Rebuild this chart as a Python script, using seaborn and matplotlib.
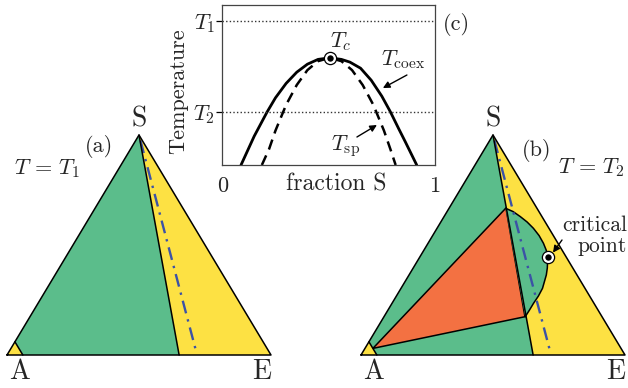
import numpy as np
import pandas as pd
import seaborn as sns
import matplotlib.pyplot as plt

sns.set_style('white')
plt.rcParams['font.family'] = 'cmr10'
plt.rcParams['mathtext.fontset'] = 'cm'
plt.rcParams['axes.unicode_minus'] = False
plt.rcParams['axes.formatter.use_mathtext'] = True

# --- (c) inset: fraction S vs temperature (scaled 0..1) ---
coex_x = [0.088, 0.15, 0.21, 0.25, 0.30, 0.35, 0.40, 0.45, 0.505,
          0.56, 0.60, 0.65, 0.70, 0.75, 0.79, 0.83, 0.86, 0.914]
coex_T = [0.0, 0.18, 0.33, 0.42, 0.51, 0.58, 0.63, 0.66, 0.67,
          0.66, 0.643, 0.605, 0.53, 0.43, 0.333, 0.225, 0.146, 0.0]
sp_x = [0.186, 0.22, 0.25, 0.30, 0.35, 0.40, 0.45, 0.505,
        0.56, 0.61, 0.66, 0.71, 0.76, 0.79, 0.815]
sp_T = [0.0, 0.10, 0.215, 0.376, 0.50, 0.593, 0.649, 0.67,
        0.649, 0.593, 0.50, 0.376, 0.215, 0.10, 0.0]
T1, T2, Tc = 0.9, 0.33, 0.67
x_c = 0.505

# --- ternary diagrams, compositions as (E fraction, S fraction) ---
corner = 0.06        # A-rich corner along both edges
divider_e = 0.652    # S-rich/E-rich boundary meets the A-E edge
tie_e = 0.72         # dash-dot line from S to the A-E edge
orange_e = [0.03, 0.215, 0.534]
orange_s = [0.03, 0.668, 0.174]
lens_e = [0.214, 0.250, 0.289, 0.327, 0.365, 0.403, 0.437, 0.463, 0.4845,
          0.508, 0.520, 0.536, 0.538, 0.536, 0.536, 0.535]
lens_s = [0.667, 0.652, 0.629, 0.6045, 0.576, 0.543, 0.508, 0.477, 0.4455,
          0.3955, 0.364, 0.303, 0.268, 0.235, 0.2045, 0.174]
crit_e, crit_s = 0.4845, 0.4455

green = '#5bbd8b'
yellow = '#fde143'
orange = '#f37142'
blue = '#3c52a6'

W, H = 628, 388


def tern(e, s):
    e = np.asarray(e, dtype=float)
    s = np.asarray(s, dtype=float)
    return e + s / 2, s


def px(x, y):
    return x / W, 1 - y / H


def ring_marker(ax, x, y):
    ax.plot(x, y, 'o', ms=8.8, mfc='white', mec='black', mew=0.9,
            zorder=10, clip_on=False)
    ax.plot(x, y, 'o', ms=4.6, mfc='black', mec='black', mew=0,
            zorder=11, clip_on=False)


def base_triangle(ax):
    ax.set_xlim(0, 1)
    ax.set_ylim(0, 1)
    ax.axis('off')
    tx, ty = tern([0, 1, 0], [0, 0, 1])
    ax.fill(tx, ty, color=yellow, lw=0)
    gx, gy = tern([corner, 0, 0, divider_e], [0, corner, 1, 0])
    ax.fill(gx, gy, color=green, lw=0)


def outlines(ax):
    kw = dict(color='black', lw=1.1, clip_on=False, zorder=6)
    tx, ty = tern([0, 1, 0, 0], [0, 0, 1, 0])
    ax.plot(tx, ty, **kw)
    dx, dy = tern([0, divider_e], [1, 0])
    ax.plot(dx, dy, **kw)
    cx, cy = tern([corner, 0], [0, corner])
    ax.plot(cx, cy, **kw)


def tie_line(ax):
    s = np.array([0.975, 0.015])
    lx, ly = tern(tie_e * (1 - s), s)
    ax.plot(lx, ly, color=blue, lw=1.7, ls=(0, (5.5, 2.6, 1, 2.6)),
            zorder=5, clip_on=False)


fig = plt.figure(figsize=(W / 100, H / 100), dpi=100)

# (a) T = T1
ax_a = fig.add_axes([7 / W, (H - 355) / H, 264 / W, 220 / H])
base_triangle(ax_a)
tie_line(ax_a)
outlines(ax_a)

# (b) T = T2
ax_b = fig.add_axes([361 / W, (H - 355) / H, 264 / W, 220 / H])
base_triangle(ax_b)
ox, oy = tern(orange_e, orange_s)
ax_b.fill(ox, oy, facecolor=orange, edgecolor='black', lw=1.1, zorder=3)
lx, ly = tern(lens_e, lens_s)
ax_b.fill(lx, ly, facecolor=green, edgecolor='none', zorder=3)
ax_b.plot(lx, ly, color='black', lw=1.1, zorder=4)
tie_line(ax_b)
outlines(ax_b)
kx, ky = tern(crit_e, crit_s)
ring_marker(ax_b, kx, ky)
ax_b.annotate('', xy=(kx + 0.02, ky + 0.02), xycoords='data',
              xytext=px(562, 240), textcoords='figure fraction',
              arrowprops=dict(arrowstyle='-|>', color='black', lw=1,
                              mutation_scale=10, shrinkA=0, shrinkB=0))

# triangle labels
for x0 in (0, 354):
    fig.text(*px(139 + x0, 119), 'S', fontsize=20, ha='center', va='center')
    fig.text(*px(19 + x0, 372), 'A', fontsize=20, ha='center', va='center')
    fig.text(*px(262 + x0, 372), 'E', fontsize=20, ha='center', va='center')
fig.text(*px(99, 147), '(a)', fontsize=16, ha='center', va='center')
fig.text(*px(47, 169), r'$T\,=\,T_1$', fontsize=16, ha='center',
         va='center')
fig.text(*px(537, 151), '(b)', fontsize=16, ha='center', va='center')
fig.text(*px(591, 168), r'$T\,=\,T_2$', fontsize=16, ha='center',
         va='center')
fig.text(*px(627, 225), 'critical', fontsize=15.5, ha='right', va='center')
fig.text(*px(627, 246), 'point', fontsize=15.5, ha='right', va='center')

# (c) inset
ax_c = fig.add_axes([222.3 / W, (H - 165) / H, 212.7 / W, 160 / H])
coex = pd.DataFrame({'x': coex_x, 'T': coex_T})
spin = pd.DataFrame({'x': sp_x, 'T': sp_T})
sns.lineplot(data=coex, x='x', y='T', ax=ax_c, color='black', lw=2,
             sort=False, estimator=None)
sns.lineplot(data=spin, x='x', y='T', ax=ax_c, color='black', lw=1.8,
             ls=(0, (4.2, 2.6)), sort=False, estimator=None)
for t in (T1, T2):
    ax_c.axhline(t, color='#333333', lw=1, ls=(0, (1, 1.6)))
ring_marker(ax_c, x_c, Tc)
ax_c.set_xlim(0, 1)
ax_c.set_ylim(0, 1)
ax_c.set_xticks([0, 1])
ax_c.set_xticklabels(['0', '1'], fontsize=16)
ax_c.set_yticks([T2, T1])
ax_c.set_yticklabels([r'$T_2$', r'$T_1$'], fontsize=16)
ax_c.tick_params(axis='y', left=True, length=4.5, width=0.9, pad=0.5,
                 color='black')
ax_c.tick_params(axis='x', bottom=False, pad=5)
for sp in ax_c.spines.values():
    sp.set_color('#444444')
    sp.set_linewidth(0.9)
ax_c.set_xlabel('fraction S', fontsize=17)
ax_c.set_ylabel('Temperature', fontsize=16)
ax_c.xaxis.set_label_coords(0.535, -0.05)
ax_c.yaxis.set_label_coords(-0.16, 0.46)
ax_c.text(0.558, 0.77, r'$T_c$', fontsize=16, ha='center', va='center')
ax_c.text(0.85, 0.66, r'$T_{\rm coex}$', fontsize=16, ha='center',
          va='center')
ax_c.text(0.58, 0.12, r'$T_{\rm sp}$', fontsize=16, ha='center',
          va='center')
ax_c.annotate('', xy=(0.755, 0.481), xytext=(0.868, 0.5625),
              arrowprops=dict(arrowstyle='-|>', color='black', lw=1,
                              mutation_scale=10, shrinkA=0, shrinkB=0))
ax_c.annotate('', xy=(0.727, 0.25), xytext=(0.633, 0.175),
              arrowprops=dict(arrowstyle='-|>', color='black', lw=1,
                              mutation_scale=10, shrinkA=0, shrinkB=0))
fig.text(*px(456, 25), '(c)', fontsize=16, ha='center', va='center')

fig.savefig('out.png', dpi=100)
